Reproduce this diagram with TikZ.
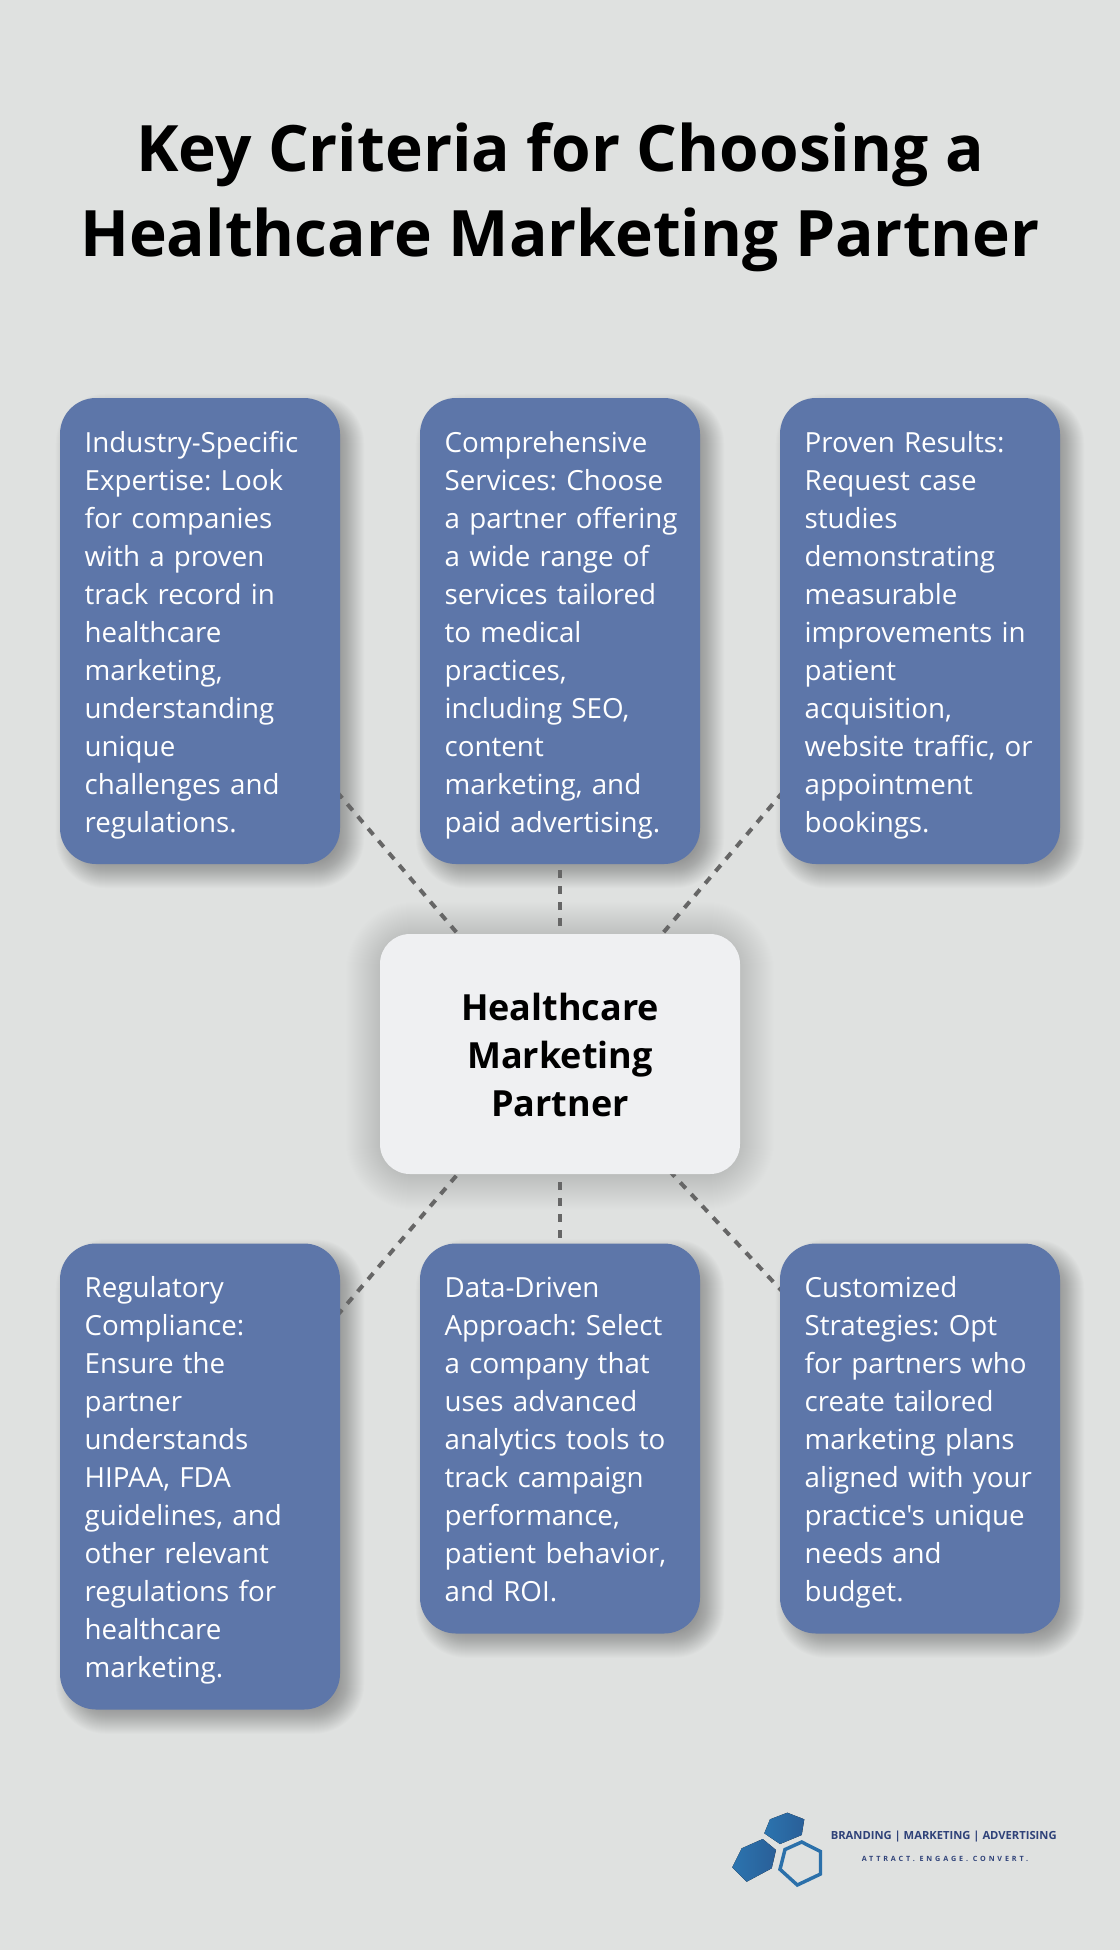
\documentclass[tikz,border=0pt]{standalone}
\usepackage{fontspec}
\setmainfont{Open Sans}[Ligatures=TeXOff]
\usetikzlibrary{calc,backgrounds}
\AtBeginDocument{\frenchspacing\hyphenpenalty=10000\relax\exhyphenpenalty=10000\relax}
\definecolor{pagebg}{HTML}{DFE1E0}
\definecolor{boxblue}{HTML}{5D76A9}
\definecolor{hubfill}{HTML}{EFF0F2}
\definecolor{dashgrey}{HTML}{666666}
\definecolor{navy}{HTML}{2F4279}
\definecolor{hexdark}{HTML}{2A5F98}
\definecolor{hexlight}{HTML}{2B74AF}
\newcommand{\softshadow}[6]{% node, dx, dy, from, to, opacity
  \foreach \i in {#4,...,#5}{
    \pgfmathsetmacro{\rr}{max(36+\i,2)*0.75}
    \fill[black,opacity=#6,rounded corners=\rr pt]
      ($(#1.south west)+(#2-\i,#3+\i)$) rectangle ($(#1.north east)+(#2+\i,#3-\i)$);
  }}
\newcommand{\cardtop}{\leavevmode\rule{0pt}{24pt}}
\newcommand{\cardend}{\rule[-6.8pt]{0pt}{6.8pt}}
\tikzset{
  x=0.75pt,y=-0.75pt,
  cardbox/.style={draw=none,fill=boxblue,text=white,rounded corners=27pt,
    minimum width=210pt,text width=173pt,inner xsep=18.5pt,inner ysep=0pt,align=left,
    font=\fontsize{20.8}{28.5}\selectfont,
    execute at begin node=\cardtop,execute at end node=\cardend},
  hubbox/.style={draw=none,fill=hubfill,text=black,rounded corners=22.5pt,
    minimum width=270pt,minimum height=180pt,align=center,
    font=\fontsize{27}{36}\selectfont\bfseries},
  linkline/.style={draw=dashgrey,line width=3pt,dash pattern=on 6pt off 6pt},
  heading/.style={text=black,align=center,font=\fontsize{48}{64}\selectfont\bfseries},
  brandone/.style={text=navy,font=\fontsize{8.4}{10}\selectfont\bfseries,inner sep=0pt},
  brandtwo/.style={text=navy,font=\fontsize{5.4}{7}\selectfont\bfseries,inner sep=0pt},
  hexsolid/.style={left color=hexlight,right color=hexdark,draw=none},
  hexring/.style={draw=hexlight!80!hexdark,line width=2.6pt,line join=miter,fill=none}
}
\begin{document}
\begin{tikzpicture}
\useasboundingbox (0,0) rectangle (1120,1950);

\node[heading] (title) at (560,197) {Key Criteria for Choosing a\\Healthcare Marketing Partner};

\node[hubbox] (hub) at (560,1054) {\rule{0pt}{22.4pt}Healthcare\\Marketing\\Partner};

\node[cardbox,minimum height=349.5pt] (a) at (200,631) {Industry-Specific\\Expertise: Look\\for companies\\with a proven\\track record in\\healthcare\\marketing,\\understanding\\unique\\challenges and\\regulations.};
\node[cardbox,minimum height=349.5pt] (b) at (560,631) {Comprehensive\\Services: Choose\\a~partner~offering\\a wide range of\\services tailored\\to medical\\practices,\\including SEO,\\content\\marketing, and\\paid~advertising.};
\node[cardbox,minimum height=349.5pt] (c) at (920,631) {Proven Results:\\Request case\\studies\\demonstrating\\measurable\\improvements~in\\patient\\acquisition,\\website~traffic,~or\\appointment\\bookings.};
\node[cardbox,minimum height=349.5pt] (d) at (200,1476.5) {Regulatory\\Compliance:\\Ensure the\\partner\\understands\\HIPAA, FDA\\guidelines, and\\other relevant\\regulations for\\healthcare\\marketing.};
\node[cardbox,minimum height=292.5pt] (e) at (560,1438.5) {Data-Driven\\Approach: Select\\a company that\\uses advanced\\analytics~tools~to\\track campaign\\performance,\\patient~behavior,\\and ROI.};
\node[cardbox,minimum height=292.5pt] (f) at (920,1438.5) {Customized\\Strategies: Opt\\for partners who\\create tailored\\marketing plans\\aligned~with~your\\practice's~unique\\needs and\\budget.};

\begin{scope}[on background layer]
  \fill[pagebg] (0,0) rectangle (1120,1950);
  \softshadow{hub}{0}{2}{-4}{34}{0.0022}
  \foreach \n in {a,b,c,d,e,f}{\softshadow{\n}{10}{10}{-12}{14}{0.013}}
  \draw[linkline] (hub.center) -- (a.center);
  \draw[linkline] (hub.center) -- (b.center);
  \draw[linkline] (hub.center) -- (c.center);
  \draw[linkline] (hub.center) -- (d.center);
  \draw[linkline] (hub.center) -- (e.center);
  \draw[linkline] (hub.center) -- (f.center);
\end{scope}

% logo
\fill[hexsolid] (787.3,1812.7) -- (804.3,1819.3) -- (801.7,1835) -- (780,1844) -- (764.3,1833.3) -- (770,1819.3) -- cycle;
\fill[hexsolid] (762.7,1839) -- (776,1850) -- (771.7,1868.3) -- (746.7,1881.7) -- (732.3,1867.3) -- (741.7,1848.3) -- cycle;
\draw[hexring] (801.7,1842) -- (820.5,1851.5) -- (820.5,1874) -- (797.3,1885) -- (780,1869.3) -- (785,1849.5) -- cycle;
\node[brandone,anchor=base west] (brand) at (830.5,1839) {BRANDING | MARKETING | ADVERTISING};
\node[brandtwo,anchor=base west] (motto) at (861.5,1861) {\addfontfeature{LetterSpace=40}ATTRACT. ENGAGE. CONVERT.};
\end{tikzpicture}
\end{document}
